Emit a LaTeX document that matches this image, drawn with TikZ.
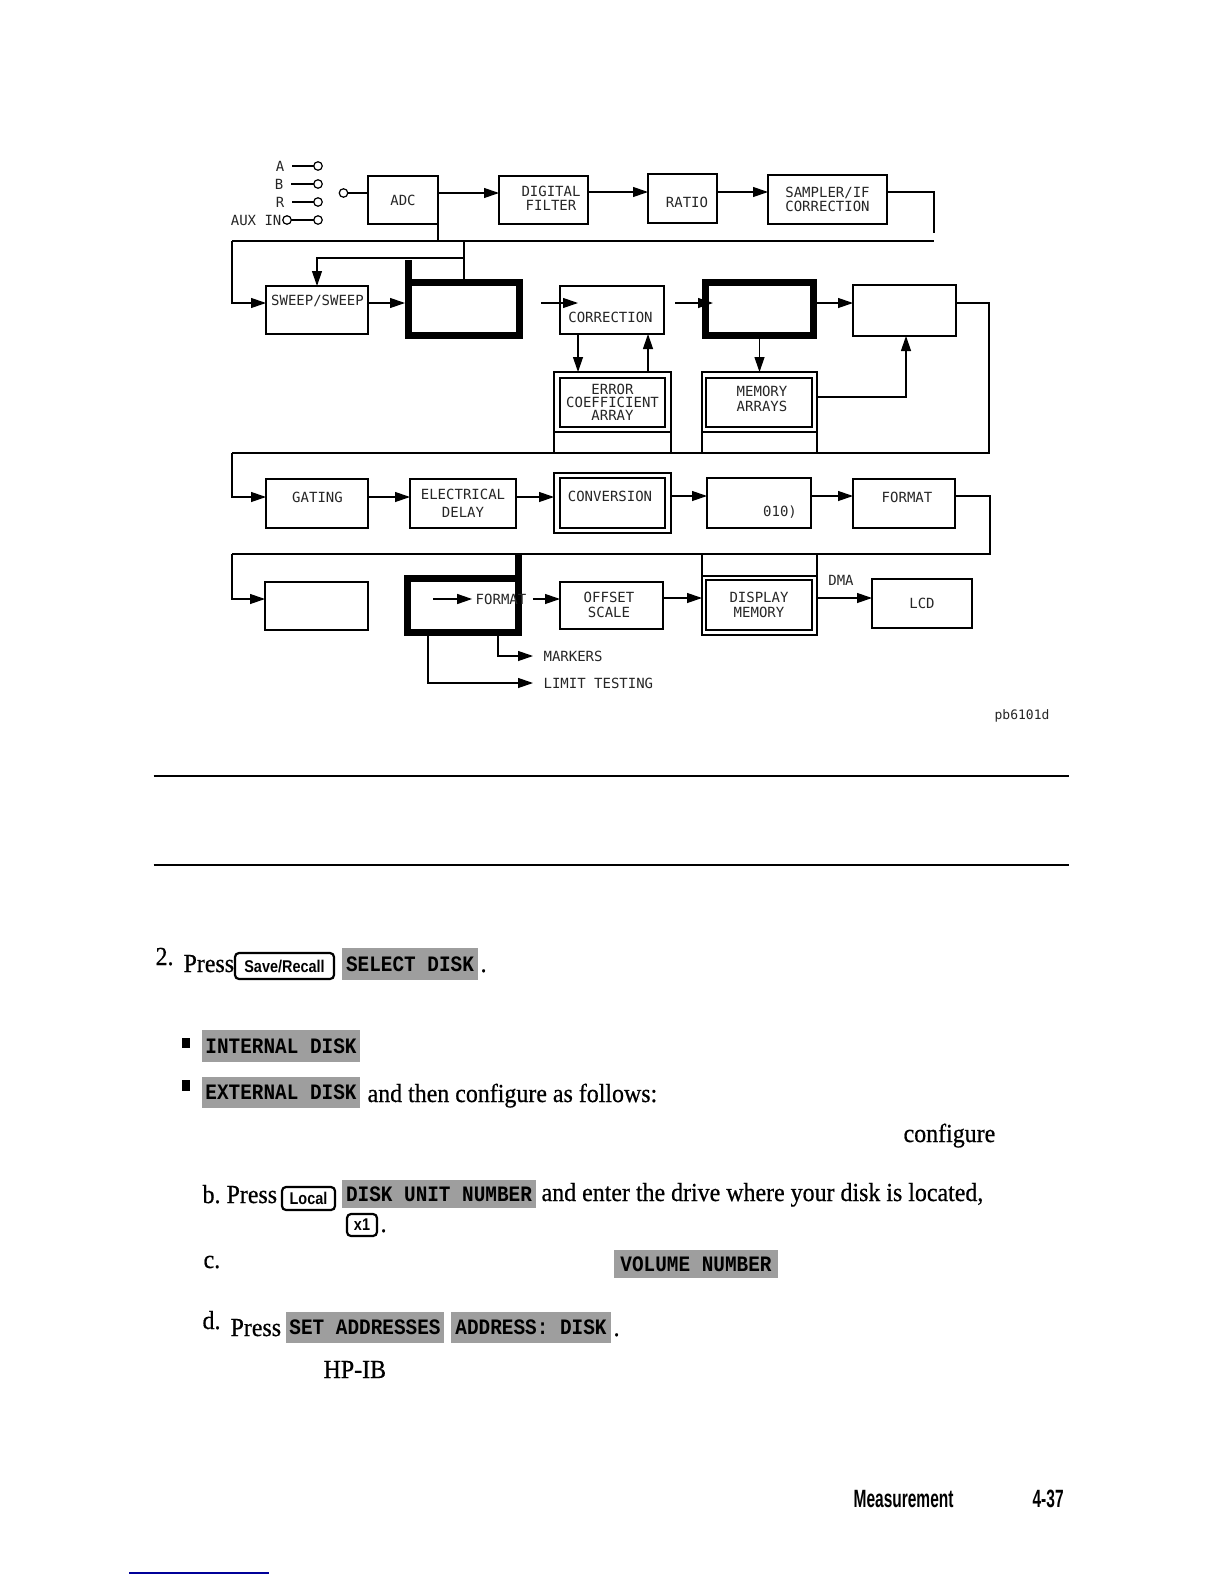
\documentclass[tikz,border=0pt]{standalone}
\usepackage{fontspec}
\setmainfont{Liberation Serif}[FakeStretch=0.92,FakeBold=0.6]
\newfontfamily\dfont{DejaVu Sans Mono}
\newfontfamily\skfont{Liberation Mono}[FakeStretch=0.88]
\newfontfamily\hkfont{Liberation Sans}[FakeStretch=0.85]
\newfontfamily\cdfont{Liberation Sans}[FakeStretch=0.62]
\usetikzlibrary{arrows.meta,calc}
\begin{document}
\begin{tikzpicture}[x=1pt,y=-1pt,line width=1.2pt,
  arr/.style={-{Triangle[length=15pt,width=10pt]}},
  blk/.style={draw, inner sep=0pt, outer sep=0pt, line width=1.2pt},
  thk/.style={draw, line width=7pt, inner sep=0pt, outer sep=0pt},
  lbl/.style={font=\dfont\fontsize{14}{14}\selectfont, inner sep=0pt, align=center, text=black!85},
  circ/.style={draw, circle, minimum size=8.5pt, inner sep=0pt, outer sep=0pt, line width=1.2pt},
  body/.style={font=\fontsize{26}{30}\selectfont, inner sep=0pt, anchor=base west},
  skey/.style={fill=black!38, inner sep=0pt, font=\skfont\bfseries\fontsize{22}{24}\selectfont},
  hkey/.style={draw, rounded corners=4pt, line width=2.2pt, inner sep=0pt, font=\hkfont\bfseries\fontsize{17}{18}\selectfont}
]
\fill[white] (0,0) rectangle (1224,1584);
\useasboundingbox (0,0) rectangle (1224,1584);

% ---------- inputs
\node[lbl, anchor=east] (la) at (285,166) {A};
\node[lbl, anchor=east] (lb) at (284,184) {B};
\node[lbl, anchor=east] (lr) at (285,202) {R};
\node[lbl, anchor=east] (lx) at (282,220) {AUX IN};
\node[circ] (ta) at (318,166) {};
\node[circ] (tb) at (318,184) {};
\node[circ] (tr) at (318,202) {};
\node[circ] (tx) at (318,220) {};
\node[circ] (cx) at (287,220) {};
\draw ([xshift=7pt]la.east) -- (ta.west);
\draw ([xshift=7pt]lb.east) -- (tb.west);
\draw ([xshift=7pt]lr.east) -- (tr.west);
\draw (cx.east) -- (tx.west);
\node[circ] (tin) at (343.5,193) {};

% ---------- row 1 boxes
\node[blk, lbl, minimum width=70pt, minimum height=48pt] (adc) at (403,200) {ADC};
\node[blk, minimum width=89pt, minimum height=48pt] (dfilt) at (543.5,200) {};
\node[lbl] (tdf) at (551,198) {DIGITAL\\FILTER};
\node[blk, minimum width=69pt, minimum height=49pt] (ratio) at (682.5,198.5) {};
\node[lbl] (tra) at (687,202) {RATIO};
\node[blk, lbl, minimum width=119pt, minimum height=49pt] (sampler) at (827.5,199.5) {SAMPLER/IF\\CORRECTION};

\draw (tin.east) -- ([yshift=7pt]adc.west);
\draw[arr] ([yshift=7pt]adc.east) -- ([yshift=7pt]dfilt.west);
\draw[arr] ([yshift=8pt]dfilt.east) -- ([yshift=6.5pt]ratio.west);
\draw[arr] ([yshift=6.5pt]ratio.east) -- ([yshift=7.5pt]sampler.west);
\coordinate (s1) at (934,233);
\draw ([yshift=7.5pt]sampler.east) -| (s1);

% ---------- bus 1
\coordinate (b1L) at (232,241);
\coordinate (b1R) at (934,241);
\draw (b1L) -- (b1R);
\draw (adc.south east) -- (adc.south east |- b1L);

% ---------- row 2
\node[blk, minimum width=102pt, minimum height=48pt] (sweep) at (317,310) {};
\node[lbl] (tsw) at (317.5,301) {SWEEP/SWEEP};
\node[thk, minimum width=111pt, minimum height=53pt] (thick1) at (464,309) {};
\draw[line width=7pt] (thick1.north west) -- ([yshift=22.5pt]thick1.north west);
\node[blk, minimum width=104pt, minimum height=48pt] (corr) at (612,310) {};
\node[lbl] (tco) at (610.5,317) {CORRECTION};
\node[thk, minimum width=108pt, minimum height=53pt] (thick2) at (759.5,309) {};
\node[blk, minimum width=103pt, minimum height=51pt] (rbox) at (904.5,310.5) {};

\draw[arr] (b1L) |- ([yshift=7pt]sweep.west);
\draw (thick1.north |- b1L) -- (thick1.north);
\coordinate (fb) at (464,258);
\draw[arr] (fb) -| (sweep.north);
\draw[arr] ([yshift=7pt]sweep.east) -- ([xshift=-3.5pt,yshift=6pt]thick1.west);
\coordinate (cin) at (541,303);
\draw[arr] (cin) -- ([xshift=18pt,yshift=7pt]corr.west);
\coordinate (t2in) at (675,303);
\draw[arr] (t2in) -- ([xshift=7.5pt,yshift=6pt]thick2.west);
\draw[arr] ([xshift=3.5pt,yshift=6pt]thick2.east) -- ([yshift=7.5pt]rbox.west);

% ---------- arrays
\node[blk, minimum width=117pt, minimum height=81pt] (err) at (612.5,412.5) {};
\draw ([yshift=21pt]err.south west) -- ([yshift=21pt]err.south east);
\node[blk, lbl, minimum width=105pt, minimum height=49pt, font=\dfont\fontsize{14}{13}\selectfont] (erri) at (612.5,402.5) {ERROR\\COEFFICIENT\\ARRAY};
\node[blk, minimum width=115pt, minimum height=81pt] (mem) at (759.5,412.5) {};
\draw ([yshift=21pt]mem.south west) -- ([yshift=21pt]mem.south east);
\node[blk, minimum width=106pt, minimum height=49pt] (memi) at (759,402.5) {};
\node[lbl, font=\dfont\fontsize{14}{15}\selectfont] (tme) at (762,398.5) {MEMORY\\ARRAYS};

\draw[arr] ([xshift=-34pt]corr.south) -- ([xshift=-34.5pt]err.north);
\draw[arr] ([xshift=35.5pt]err.north) -- ([xshift=36pt]corr.south);
\draw[arr] ([yshift=-3.5pt]thick2.south) -- (mem.north);
\draw[arr] ([yshift=15.5pt]mem.east) -| ([xshift=1.5pt]rbox.south);

% ---------- bus 2
\coordinate (rt) at (989,303);
\coordinate (b2R) at (989,453);
\coordinate (b2L) at (232,453);
\draw ([yshift=7.5pt]rbox.east) -- (rt) -- (b2R) -- (b2L);

% ---------- row 3
\node[blk, minimum width=102pt, minimum height=49pt] (gating) at (317,503.5) {};
\node[lbl] (tga) at (317.5,497) {GATING};
\node[blk, minimum width=106pt, minimum height=49pt] (eldelay) at (463,503.5) {};
\node[lbl, font=\dfont\fontsize{14}{18}\selectfont] (tel) at (463,503) {ELECTRICAL\\DELAY};
\node[blk, minimum width=117pt, minimum height=60pt] (conv) at (612.5,503) {};
\node[blk, minimum width=105pt, minimum height=50pt] (convi) at (612.5,503) {};
\node[lbl] (tcv) at (610,496) {CONVERSION};
\node[blk, minimum width=104pt, minimum height=50pt] (box010) at (759,503) {};
\node[lbl] (t010) at (780,512) {010)};
\node[blk, minimum width=102pt, minimum height=49pt] (format1) at (904,503.5) {};
\node[lbl] (tfo) at (907,497) {FORMAT};

\draw[arr] (b2L) |- ([yshift=6.5pt]gating.west);
\draw[arr] ([yshift=6.5pt]gating.east) -- ([yshift=6.5pt]eldelay.west);
\draw[arr] ([yshift=6.5pt]eldelay.east) -- ([yshift=6pt]conv.west);
\draw[arr] ([yshift=7pt]conv.east) -- ([yshift=7pt]box010.west);
\draw[arr] ([yshift=7pt]box010.east) -- ([yshift=7.5pt]format1.west);

% ---------- bus 3
\coordinate (ft) at (990,496);
\coordinate (b3R) at (990,554);
\coordinate (b3L) at (232,554);
\draw ([yshift=7.5pt]format1.east) -- (ft) -- (b3R) -- (b3L);

% ---------- row 4
\node[blk, minimum width=103pt, minimum height=48pt] (blank) at (316.5,606) {};
\node[thk, minimum width=111pt, minimum height=54pt] (thick3) at (463,605.5) {};
\draw[line width=7pt] (thick3.north east) -- ([yshift=24.5pt]thick3.north east);
\node[lbl] (fmt2) at (501,599) {FORMAT};
\coordinate (f2in) at (433,599);
\node[blk, minimum width=103pt, minimum height=47pt] (offset) at (611.5,605.5) {};
\node[lbl, font=\dfont\fontsize{14}{15}\selectfont] (tof) at (609,604.5) {OFFSET\\SCALE};
\node[blk, minimum width=115pt, minimum height=81pt] (dispmem) at (759.5,594.5) {};
\draw ([yshift=-22pt]dispmem.north west) -- ([yshift=-22pt]dispmem.north east);
\node[blk, lbl, minimum width=106pt, minimum height=50pt, font=\dfont\fontsize{14}{15}\selectfont] (dispi) at (759,605) {DISPLAY\\MEMORY};
\node[blk, lbl, minimum width=100pt, minimum height=49pt] (lcd) at (922,603.5) {LCD};
\node[lbl] (dma) at (841,580) {DMA};
\node[lbl, anchor=west] (mk) at (543,656) {MARKERS};
\node[lbl, anchor=west] (lt) at (543,683) {LIMIT TESTING};
\node[lbl, font=\dfont\fontsize{13}{13}\selectfont] (pb) at (1022,716) {pb6101d};

\draw[arr] (b3L) |- ([yshift=7pt]blank.west);
\draw[arr] (f2in) -- ([xshift=-3pt]fmt2.west);
\draw[arr] ([xshift=6pt]fmt2.east) -- ([yshift=6.5pt]offset.west);
\draw[arr] ([yshift=7.5pt]offset.east) -- ([yshift=-3.5pt]dispmem.west);
\draw[arr] ([yshift=-3.5pt]dispmem.east) -- ([yshift=5.5pt]lcd.west);
\draw[arr] ([xshift=35pt,yshift=-3.5pt]thick3.south) |- ([xshift=-10pt]mk.west);
\draw[arr] ([xshift=-35pt,yshift=-3.5pt]thick3.south) |- ([xshift=-10pt]lt.west);

% ---------- rules
\draw[line width=2pt] (153.5,775.5) -- (1068.5,775.5);
\draw[line width=2pt] (153.5,864.5) -- (1068.5,864.5);

% ---------- body text
\node[body] (n2) at (155,965) {2.};
\node[body] (p2) at (183,972) {Press};
\node[hkey, minimum width=99pt, minimum height=26pt] (ksr) at (284.5,966) {Save/Recall};
\node[skey, minimum width=136pt, minimum height=32pt] (ksd) at (410,964) {SELECT DISK};
\node[body] (d2) at (480,972) {.};

\fill (182,1038) rectangle (190,1048);
\fill (182,1080) rectangle (190,1091);
\node[skey, minimum width=158pt, minimum height=32pt] (kid) at (281,1046) {INTERNAL DISK};
\node[skey, minimum width=158pt, minimum height=31pt] (ked) at (281,1092.5) {EXTERNAL DISK};
\node[body] (t1) at (367,1102) {and then configure as follows:};
\node[body] (t2) at (903,1142) {configure};

\node[body] (nb) at (202,1203) {b.};
\node[body] (pb2) at (226,1203) {Press};
\node[hkey, minimum width=53pt, minimum height=23pt] (kl) at (308.5,1198.5) {Local};
\node[skey, minimum width=194pt, minimum height=28pt] (kdu) at (439,1194) {DISK UNIT NUMBER};
\node[body] (t3) at (541,1201) {and enter the drive where your disk is located,};
\node[hkey, minimum width=30pt, minimum height=22pt] (kx1) at (362,1225) {x1};
\node[body] (d3) at (380,1232) {.};

\node[body] (nc) at (203,1268) {c.};
\node[skey, minimum width=164pt, minimum height=28pt] (kvn) at (696,1264) {VOLUME NUMBER};

\node[body] (nd) at (202,1329) {d.};
\node[body] (pd) at (230,1336) {Press};
\node[skey, minimum width=158pt, minimum height=31pt] (ksa) at (365,1327.5) {SET ADDRESSES};
\node[skey, minimum width=160pt, minimum height=31pt] (kad) at (531,1327.5) {ADDRESS: DISK};
\node[body] (d4) at (613,1336) {.};
\node[body] (hp) at (323,1378) {HP-IB};

\node[font=\cdfont\bfseries\fontsize{25}{26}\selectfont, anchor=base west, inner sep=0pt] (ms) at (853,1507) {Measurement};
\node[font=\cdfont\bfseries\fontsize{25}{26}\selectfont, anchor=base west, inner sep=0pt] (pg) at (1032,1507) {4-37};
\draw[blue!60!black, line width=2pt] (129,1573) -- (269,1573);
\end{tikzpicture}
\end{document}
